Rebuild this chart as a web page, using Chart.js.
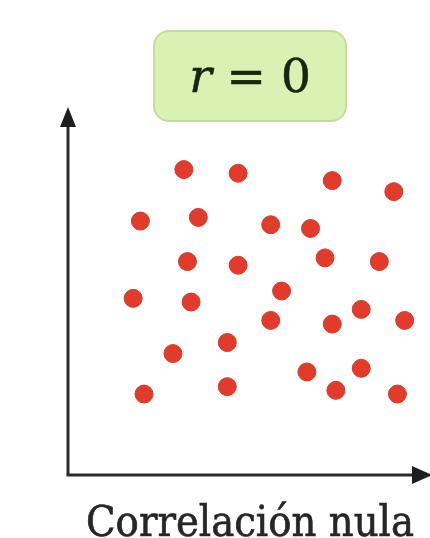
<!DOCTYPE html>
<html>
<head>
    <title>Correlación nula</title>
    <script src="https://cdn.jsdelivr.net/npm/chart.js"></script>
    <style>
        html, body { margin: 0; padding: 0; background: #fff; }
        #wrap { position: relative; width: 430px; height: 538px; overflow: hidden; }
        #myChart { position: absolute; left: 0; top: 0; }
        #rbox {
            position: absolute; left: 153px; top: 30px; width: 190px; height: 88px;
            background: #d9f1b2; border: 2px solid #c2dd9e; border-radius: 16px;
        }
        #rtext {
            position: absolute; left: 0; top: 20px; width: 100%; text-align: center;
            font-family: "DejaVu Serif", serif; font-size: 47px; line-height: 47px; color: #17260f;
            -webkit-text-stroke: 0.6px #17260f;
        }
        #label {
            position: absolute; left: 0; width: 500px; top: 500px; text-align: center;
            font-family: "DejaVu Serif Condensed", "DejaVu Serif", serif; font-size: 43px; line-height: 43px; color: #262626;
            -webkit-text-stroke: 0.6px #262626;
        }
    </style>
</head>
<body>
<div id="wrap">
    <canvas id="myChart" width="430" height="538"></canvas>
    <div id="rbox"><div id="rtext"><i>r</i> = 0</div></div>
    <div id="label">Correlación nula</div>
</div>

<script>
    // puntos sin relación entre x e y
    const xValues = [32, 47, 73, 90, 20, 36, 56, 67, 33, 47, 71, 86, 18, 34, 59, 81, 56, 73, 93, 29, 44, 66, 81, 21, 44, 74, 91];
    const yValues = [83, 82, 80, 77, 69, 70, 68, 67, 58, 57, 59, 58, 48, 47, 50, 45, 42, 41, 42, 33, 36, 28, 29, 22, 24, 23, 22];

    const points = xValues.map((x, i) => ({ x: x, y: yValues[i] }));

    // ejes con flechas
    const arrowAxes = {
        id: 'arrowAxes',
        afterDraw(chart) {
            const ctx = chart.ctx;
            const a = chart.chartArea;
            ctx.save();
            ctx.strokeStyle = '#2b2b2b';
            ctx.fillStyle = '#1e1e1e';
            ctx.lineWidth = 3;
            ctx.beginPath();
            ctx.moveTo(a.left, a.top + 14);
            ctx.lineTo(a.left, a.bottom);
            ctx.lineTo(a.right - 14, a.bottom);
            ctx.stroke();
            // flecha vertical
            ctx.beginPath();
            ctx.moveTo(a.left, a.top);
            ctx.lineTo(a.left - 8, a.top + 20);
            ctx.lineTo(a.left + 8, a.top + 20);
            ctx.closePath();
            ctx.fill();
            // flecha horizontal
            ctx.beginPath();
            ctx.moveTo(a.right + 2, a.bottom);
            ctx.lineTo(a.right - 18, a.bottom - 9);
            ctx.lineTo(a.right - 18, a.bottom + 9);
            ctx.closePath();
            ctx.fill();
            ctx.restore();
        }
    };

    const ctx = document.getElementById('myChart').getContext('2d');
    new Chart(ctx, {
        type: 'scatter',
        data: {
            datasets: [{
                data: points,
                backgroundColor: '#e23b2b',
                borderColor: '#c4412f',
                borderWidth: 1,
                pointRadius: 9,
                pointHoverRadius: 9
            }]
        },
        options: {
            responsive: false,
            animation: false,
            layout: { autoPadding: false, padding: { left: 68, right: 0, top: 107, bottom: 63 } },
            plugins: { legend: { display: false }, tooltip: { enabled: false } },
            scales: {
                x: { display: false, min: 0, max: 100 },
                y: { display: false, min: 0, max: 100 }
            }
        },
        plugins: [arrowAxes]
    });
</script>
</body>
</html>
